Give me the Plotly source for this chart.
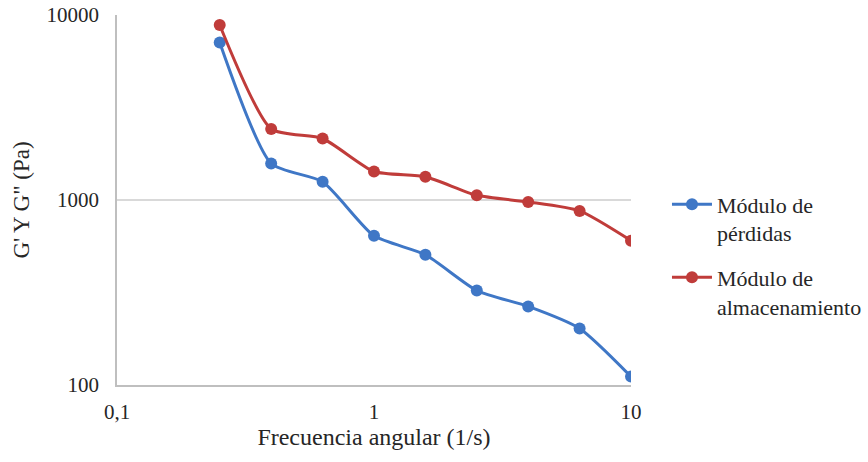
import plotly.graph_objects as go

freq = [0.251, 0.398, 0.631, 1.0, 1.585, 2.512, 3.981, 6.31, 10.0]
perdidas = [7100, 1575, 1255, 640, 506, 324, 266, 202, 111]
almacenamiento = [8830, 2420, 2150, 1425, 1335, 1060, 976, 873, 603]

x_tickvals = [0.1, 1, 10]
x_ticktext = ["0,1", "1", "10"]
y_tickvals = [100, 1000, 10000]
y_ticktext = ["100", "1000", "10000"]

blue = "#3F77C6"
red = "#C03C3A"
font = "Times New Roman, Liberation Serif, serif"
txt = "#262626"

fig = go.Figure()
fig.add_trace(go.Scatter(
    x=freq, y=perdidas, mode="lines+markers",
    name="Módulo de<br>pérdidas", legendgroup="g1",
    line=dict(color=blue, width=3, shape="spline", smoothing=0.6),
    marker=dict(color=blue, size=12),
))
fig.add_trace(go.Scatter(
    x=freq, y=almacenamiento, mode="lines+markers",
    name="Módulo de<br>almacenamiento", legendgroup="g2",
    line=dict(color=red, width=3, shape="spline", smoothing=0.6),
    marker=dict(color=red, size=12),
))

fig.update_layout(
    width=868, height=462,
    margin=dict(l=117, r=237, t=15, b=77, autoexpand=False),
    paper_bgcolor="white", plot_bgcolor="white",
    font=dict(family=font, size=21, color=txt),
    showlegend=True,
    legend=dict(x=1.07, y=0.545, yanchor="top", xanchor="left", valign="top",
                font=dict(family=font, size=22, color=txt),
                tracegroupgap=13, itemwidth=40, bgcolor="rgba(0,0,0,0)"),
)
fig.update_xaxes(
    type="log", range=[-1, 1], automargin=False,
    tickvals=x_tickvals, ticktext=x_ticktext,
    tickfont=dict(family=font, size=21, color=txt),
    showgrid=False, zeroline=False,
    showline=True, linecolor="#BFBFBF", linewidth=1.5,
    ticks="", ticklabelstandoff=7,
    title=dict(text="Frecuencia angular (1/s)", font=dict(family=font, size=24, color=txt), standoff=5),
)
fig.update_yaxes(
    type="log", range=[2, 4], automargin=False,
    tickvals=y_tickvals, ticktext=y_ticktext,
    tickfont=dict(family=font, size=21, color=txt),
    showgrid=True, gridcolor="#D9D9D9", gridwidth=1.5, zeroline=False,
    showline=True, linecolor="#BFBFBF", linewidth=1.5,
    ticks="", ticklabelstandoff=12,
    title=dict(text="G' Y G\" (Pa)", font=dict(family=font, size=23, color=txt), standoff=10),
)

fig.write_html("out.html")
